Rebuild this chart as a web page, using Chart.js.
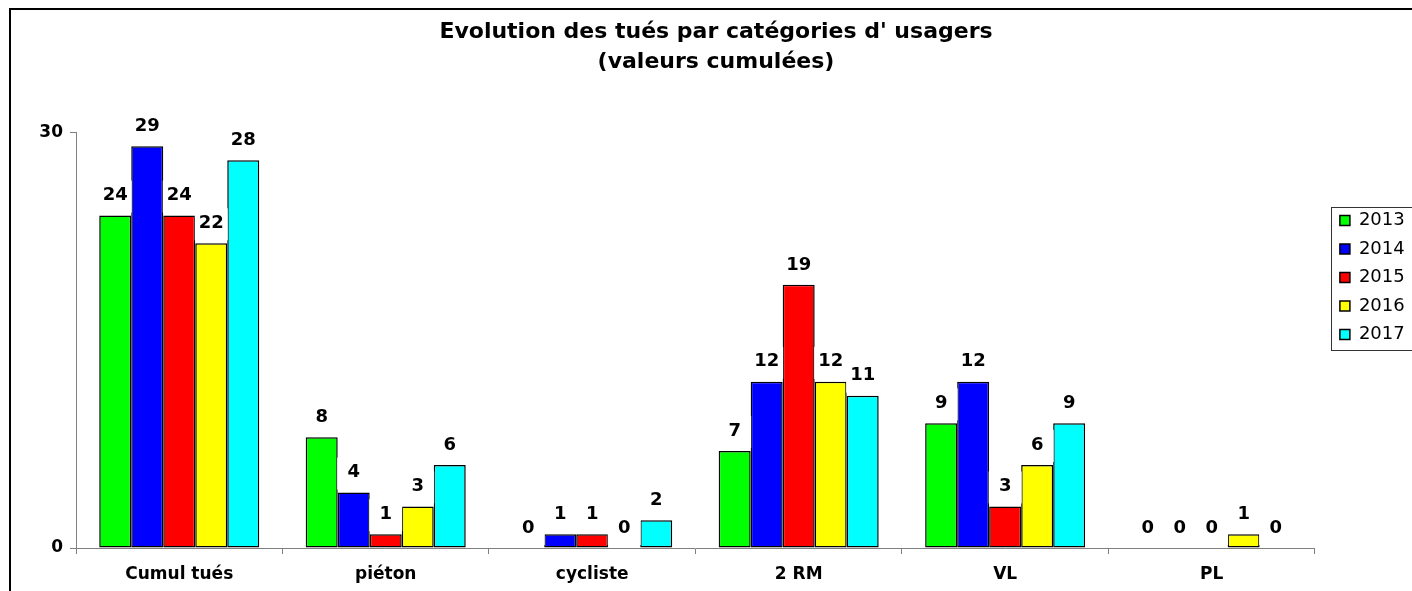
<!DOCTYPE html>
<html><head><meta charset="utf-8">
<script src="https://cdn.jsdelivr.net/npm/chart.js@4.4.1/dist/chart.umd.min.js"></script>
<style>html,body{margin:0;padding:0;background:#fff;overflow:hidden}#wrap{position:relative;width:1412px;height:591px}</style>
</head><body><div id="wrap"><canvas id="c" width="1412" height="591"></canvas></div>
<script>
const categories = ['Cumul tués', 'piéton', 'cycliste', '2 RM', 'VL', 'PL'];
const years = ['2013', '2014', '2015', '2016', '2017'];
const v2013 = [24, 8, 0, 7, 9, 0];
const v2014 = [29, 4, 1, 12, 12, 0];
const v2015 = [24, 1, 1, 19, 3, 0];
const v2016 = [22, 3, 0, 12, 6, 1];
const v2017 = [28, 6, 2, 11, 9, 0];
const yTicks = [0, 30];
const titleLines = ['Evolution des tués par catégories d\' usagers', '(valeurs cumulées)'];

const seriesValues = [v2013, v2014, v2015, v2016, v2017];
const colors = ['#00ff00', '#0000ff', '#ff0000', '#ffff00', '#00ffff'];

const FONT = "'DejaVu Sans', sans-serif";

const framePlugin = {
  id: 'frame',
  beforeDraw(chart) {
    const ctx = chart.ctx;
    ctx.save();
    ctx.fillStyle = '#fff';
    ctx.fillRect(0, 0, chart.width, chart.height);
    ctx.strokeStyle = '#000';
    ctx.lineWidth = 2;
    ctx.beginPath();
    ctx.moveTo(10, chart.height + 2);
    ctx.lineTo(10, 9);
    ctx.lineTo(chart.width + 2, 9);
    ctx.stroke();
    ctx.restore();
  }
};

const legendPlace = {
  id: 'legendPlace',
  afterLayout(chart) {
    const lg = chart.legend;
    if (!lg) return;
    lg.left += 14.5; lg.right += 14.5;
    lg.top -= 18.5; lg.bottom -= 18.5;
  },
  afterDraw(chart) {
    const ctx = chart.ctx;
    ctx.save();
    ctx.strokeStyle = '#333';
    ctx.lineWidth = 1;
    ctx.strokeRect(1331.5, 207.5, 200, 143);
    ctx.restore();
  }
};

const valueLabels = {
  id: 'valueLabels',
  afterDatasetsDraw(chart) {
    const ctx = chart.ctx;
    ctx.save();
    ctx.font = "bold 18px " + FONT;
    ctx.textAlign = 'center';
    ctx.textBaseline = 'middle';
    chart.data.datasets.forEach((ds, i) => {
      const meta = chart.getDatasetMeta(i);
      meta.data.forEach((el, j) => {
        const cy = el.y - 21;
        const w = el.width + 1;
        ctx.fillStyle = '#fff';
        ctx.fillRect(el.x - w / 2, cy - 14, w, 32);
        ctx.fillStyle = '#000';
        ctx.fillText(String(ds.data[j]), el.x, cy + 1);
      });
    });
    ctx.restore();
  }
};

new Chart(document.getElementById('c'), {
  type: 'bar',
  data: {
    labels: categories,
    datasets: years.map((y, i) => ({
      label: y,
      data: seriesValues[i],
      backgroundColor: colors[i],
      borderColor: '#000',
      borderWidth: 1.5,
      borderSkipped: false,
      barPercentage: 1.0,
      categoryPercentage: 0.775
    }))
  },
  options: {
    responsive: false,
    devicePixelRatio: 1,
    animation: false,
    layout: { padding: { top: 8, left: 31.8, right: 11.8, bottom: 7 } },
    plugins: {
      title: {
        display: true,
        text: titleLines,
        color: '#000',
        font: { family: FONT, size: 22, weight: 'bold', lineHeight: 1.33 },
        padding: { top: 10, bottom: 56 }
      },
      legend: {
        position: 'right',
        align: 'center',
        labels: {
          boxWidth: 10,
          boxHeight: 10,
          padding: 10.5,
          color: '#000',
          font: { family: FONT, size: 18 }
        }
      },
      tooltip: { enabled: false }
    },
    scales: {
      x: {
        afterFit(scale) { scale.height = 36; },
        grid: { display: true, drawOnChartArea: false, drawTicks: true, tickLength: 6, color: '#808080', offset: true },
        border: { display: true, color: '#808080', width: 1 },
        ticks: { color: '#000', font: { family: FONT, size: 17, weight: 'bold' }, padding: 10, maxRotation: 0 }
      },
      y: {
        min: 0,
        max: 30,
        afterFit(scale) { scale.width = 44.2; },
        afterBuildTicks(scale) { scale.ticks = yTicks.map(v => ({ value: v })); },
        grid: { display: true, drawOnChartArea: false, drawTicks: true, tickLength: 6, color: '#808080' },
        border: { display: true, color: '#808080', width: 1 },
        ticks: { color: '#000', font: { family: FONT, size: 17, weight: 'bold' }, padding: 7 }
      }
    }
  },
  plugins: [framePlugin, legendPlace, valueLabels]
});
</script>
</body></html>
